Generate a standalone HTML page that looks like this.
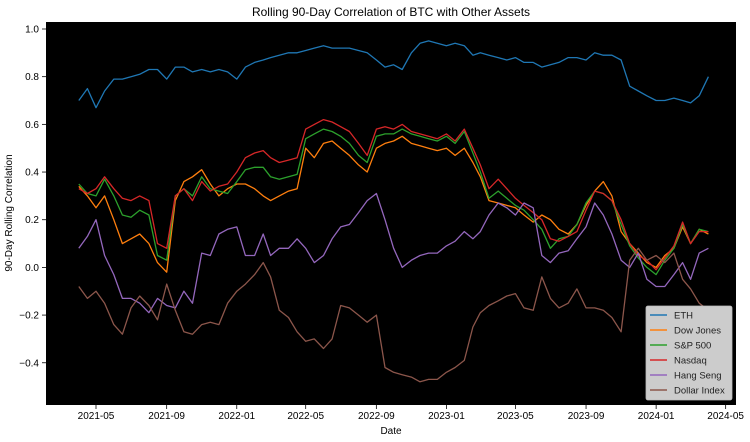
<!DOCTYPE html>
<html><head><meta charset="utf-8">
<style>
body{margin:0;background:#fff;}
svg{display:block;font-family:"Liberation Sans","DejaVu Sans",sans-serif;}
</style></head>
<body>
<svg id="chart" width="750" height="442" viewBox="0 0 750 442" xmlns="http://www.w3.org/2000/svg">
<rect x="0" y="0" width="750" height="442" fill="#fff"/>
<text x="391" y="16" text-anchor="middle" font-size="12" fill="#000">Rolling 90-Day Correlation of BTC with Other Assets</text>
<rect x="46" y="22" width="690" height="383" fill="#000"/>
<g id="yaxis"></g>
<g id="xaxis"></g>
<g id="series"></g>
<text transform="translate(12,213) rotate(-90)" text-anchor="middle" font-size="10" fill="#000">90-Day Rolling Correlation</text>
<text x="391" y="434" text-anchor="middle" font-size="10" fill="#000">Date</text>
<g id="legend"></g>
</svg>
<script>
const yTicks=[1.0,0.8,0.6,0.4,0.2,0.0,-0.2,-0.4];
const yTickLabels=["1.0","0.8","0.6","0.4","0.2","0.0","\u22120.2","\u22120.4"];
const xTicks=["2021-05-01","2021-09-01","2022-01-01","2022-05-01","2022-09-01","2023-01-01","2023-05-01","2023-09-01","2024-01-01","2024-05-01"];
const xTickLabels=["2021-05","2021-09","2022-01","2022-05","2022-09","2023-01","2023-05","2023-09","2024-01","2024-05"];
const seriesNames=["ETH","Dow Jones","S&P 500","Nasdaq","Hang Seng","Dollar Index"];
const seriesColors=["#1f77b4","#ff7f0e","#2ca02c","#d62728","#9467bd","#8c564b"];
const eth=[0.70,0.75,0.67,0.74,0.79,0.79,0.80,0.81,0.83,0.83,0.79,0.84,0.84,0.82,0.83,0.82,0.83,0.82,0.79,0.84,0.86,0.87,0.88,0.89,0.90,0.90,0.91,0.92,0.93,0.92,0.92,0.92,0.91,0.90,0.87,0.84,0.85,0.83,0.90,0.94,0.95,0.94,0.93,0.94,0.93,0.89,0.90,0.89,0.88,0.87,0.88,0.86,0.86,0.84,0.85,0.86,0.88,0.88,0.87,0.90,0.89,0.89,0.87,0.76,0.74,0.72,0.70,0.70,0.71,0.70,0.69,0.72,0.80];
const dow=[0.34,0.30,0.25,0.30,0.20,0.10,0.12,0.14,0.10,0.02,-0.02,0.28,0.36,0.38,0.41,0.35,0.30,0.33,0.35,0.35,0.33,0.30,0.28,0.30,0.32,0.33,0.50,0.46,0.52,0.53,0.50,0.47,0.43,0.40,0.50,0.52,0.53,0.55,0.52,0.51,0.50,0.49,0.50,0.47,0.50,0.44,0.38,0.28,0.27,0.26,0.25,0.22,0.19,0.22,0.20,0.16,0.14,0.18,0.26,0.32,0.36,0.30,0.15,0.10,0.06,0.02,0.00,0.05,0.08,0.17,0.10,0.16,0.14];
const sp500=[0.35,0.31,0.30,0.37,0.30,0.22,0.21,0.24,0.22,0.05,0.03,0.30,0.33,0.30,0.38,0.33,0.32,0.31,0.36,0.41,0.42,0.42,0.38,0.37,0.38,0.39,0.54,0.56,0.58,0.57,0.55,0.52,0.47,0.44,0.55,0.56,0.56,0.58,0.56,0.55,0.54,0.53,0.55,0.52,0.57,0.48,0.40,0.29,0.32,0.29,0.26,0.24,0.20,0.16,0.08,0.12,0.13,0.18,0.27,0.32,0.31,0.28,0.18,0.09,0.04,0.00,-0.03,0.03,0.08,0.18,0.10,0.16,0.15];
const nasdaq=[0.33,0.31,0.33,0.38,0.33,0.29,0.28,0.30,0.28,0.10,0.08,0.30,0.33,0.28,0.36,0.32,0.34,0.35,0.40,0.46,0.48,0.49,0.46,0.44,0.45,0.46,0.58,0.60,0.62,0.61,0.59,0.57,0.52,0.47,0.58,0.59,0.58,0.60,0.57,0.56,0.55,0.54,0.56,0.53,0.58,0.50,0.43,0.33,0.37,0.33,0.29,0.26,0.23,0.20,0.12,0.11,0.13,0.15,0.24,0.32,0.31,0.28,0.20,0.10,0.05,0.03,-0.01,0.04,0.09,0.19,0.10,0.15,0.15];
const hangSeng=[0.08,0.13,0.20,0.05,-0.03,-0.13,-0.13,-0.15,-0.19,-0.13,-0.16,-0.17,-0.10,-0.15,0.06,0.05,0.14,0.16,0.17,0.05,0.05,0.14,0.05,0.08,0.08,0.12,0.08,0.02,0.05,0.12,0.17,0.18,0.23,0.28,0.31,0.20,0.08,0.00,0.03,0.05,0.06,0.06,0.09,0.11,0.15,0.12,0.15,0.22,0.27,0.25,0.22,0.27,0.25,0.05,0.02,0.06,0.07,0.12,0.17,0.27,0.22,0.14,0.03,0.00,0.06,-0.05,-0.08,-0.08,-0.03,0.02,-0.05,0.06,0.08];
const dollarIndex=[-0.08,-0.13,-0.10,-0.15,-0.24,-0.28,-0.17,-0.12,-0.16,-0.22,-0.07,-0.18,-0.27,-0.28,-0.24,-0.23,-0.24,-0.15,-0.10,-0.07,-0.03,0.02,-0.04,-0.18,-0.21,-0.27,-0.31,-0.30,-0.34,-0.30,-0.16,-0.17,-0.20,-0.23,-0.20,-0.42,-0.44,-0.45,-0.46,-0.48,-0.47,-0.47,-0.44,-0.42,-0.39,-0.25,-0.19,-0.16,-0.14,-0.12,-0.11,-0.17,-0.18,-0.04,-0.13,-0.17,-0.15,-0.09,-0.17,-0.17,-0.18,-0.21,-0.27,0.03,0.08,0.03,0.05,0.02,0.06,-0.05,-0.09,-0.15,-0.18];

// half-monthly dates starting 2021-04-01
const dates=[];
for(let i=0;i<eth.length;i++){
  const m=3+Math.floor(i/2);
  dates.push(new Date(Date.UTC(2021,m,(i%2)?16:1)));
}
const NS="http://www.w3.org/2000/svg";
const x0=Date.UTC(2021,4,1);
const pxPerDay=0.5745;
function xScale(d){return 96+((d-x0)/86400000)*pxPerDay;}
function yScale(v){return 29+(1-v)*238.4;}
function mk(tag,attrs,parent){const e=document.createElementNS(NS,tag);for(const k in attrs)e.setAttribute(k,attrs[k]);parent.appendChild(e);return e;}

const ya=document.getElementById('yaxis');
yTicks.forEach((v,i)=>{
  const y=yScale(v);
  const t=mk('line',{x1:42,x2:46,y1:y,y2:y,stroke:'#000','stroke-width':0.8},ya);
  
  
  const l=mk('text',{x:39,y:y+3.5,'text-anchor':'end','font-size':10,fill:'#000'},ya);
  
  
  l.textContent=yTickLabels[i];
});
const xa=document.getElementById('xaxis');
xTicks.forEach((s,i)=>{
  const p=s.split('-').map(Number);
  const x=xScale(Date.UTC(p[0],p[1]-1,p[2]));
  const t=mk('line',{x1:x,x2:x,y1:405,y2:409,stroke:'#000','stroke-width':0.8},xa);
  
  
  const l=mk('text',{x:x,y:419,'text-anchor':'middle','font-size':10,fill:'#000'},xa);
  
  
  l.textContent=xTickLabels[i];
});
const allSeries=[eth,dow,sp500,nasdaq,hangSeng,dollarIndex];
const keys=["eth","dow-jones","sp-500","nasdaq","hang-seng","dollar-index"];
const sg=document.getElementById('series');
allSeries.forEach((arr,si)=>{
  const d=arr.map((v,i)=>(i?'L':'M')+xScale(dates[i]).toFixed(1)+','+yScale(v).toFixed(1)).join('');
  const p=mk('path',{d:d,fill:'none',stroke:seriesColors[si],'stroke-width':1.3,'stroke-linejoin':'round'},sg);
  
  
});
const lg=document.getElementById('legend');
const bx=mk('rect',{x:646,y:306,width:86,height:94,rx:2,fill:'#cccccc',stroke:'#bbb','stroke-width':0.8},lg);


seriesNames.forEach((n,i)=>{
  const y=315+i*15;
  const ln=mk('line',{x1:650,x2:667,y1:y,y2:y,stroke:seriesColors[i],'stroke-width':1.5},lg);
  
  
  const t=mk('text',{x:674,y:y+3.5,'font-size':9.5,fill:'#222'},lg);
  
  
  t.textContent=n;
});
</script>
</body></html>
